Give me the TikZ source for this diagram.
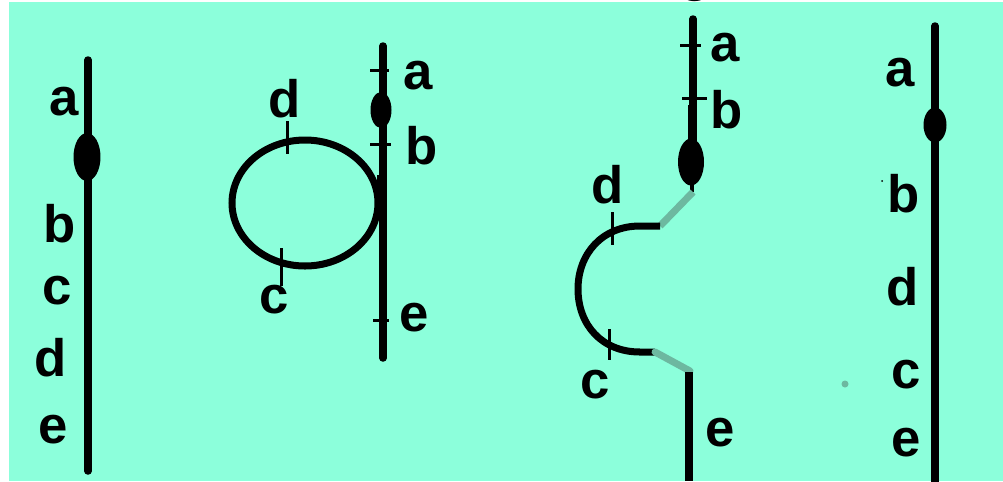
\documentclass[tikz,border=0pt]{standalone}
\usepackage{fontspec}
\setmainfont{Liberation Sans}
\usetikzlibrary{shapes.geometric}
\definecolor{Aqua}{HTML}{8CFFDB}
\definecolor{Faded}{HTML}{6DB8A0}
\tikzset{
  strand/.style={line width=7pt*0.57,draw=black},
  thread/.style={line width=7.5pt*0.57,draw=black,line cap=round},
  faded/.style={line width=7pt*0.57,draw=Faded},
  tick/.style={line width=3pt*0.57,draw=black},
  blob/.style={ellipse,fill=black,inner sep=0pt},
  letter/.style={inner sep=0pt,font=\bfseries\fontsize{30}{30}\selectfont}
}
\begin{document}
\begin{tikzpicture}[x=.02cm,y=-.02cm]
  \useasboundingbox (0,0) rectangle (1003,481);
  \fill[white] (0,0) rectangle (1003,481);
  \fill[Aqua] (9,2) rectangle (1003,481);
  % cut off heading
  \begin{scope}
    \clip (0,0) rectangle (1003,5);
    \node[letter] (head) at (696,-18) {g};
  \end{scope}
  % first strand
  \draw[thread] (88,60) -- (88,471);
  \node[blob,minimum width=.54cm,minimum height=.96cm] (knotA) at (87,157) {};
  \node[letter] (aA) at (64,102) {a};
  \node[letter] (bA) at (60,224) {b};
  \node[letter] (cA) at (57,291) {c};
  \node[letter] (dA) at (51,358) {d};
  \node[letter] (eA) at (53,430) {e};
  % second strand with loop
  \draw[thread] (383,46) -- (383,358);
  \draw[strand] (305,203) ellipse (73 and 63);
  \draw[line width=5pt*0.57] (379,175) -- (379,215);
  \node[blob,minimum width=.42cm,minimum height=.72cm] (knotB) at (381,110) {};
  \draw[tick] (370,70) -- (389,70);
  \draw[tick] (370,144) -- (391,144);
  \draw[tick] (373,320) -- (389,320);
  \draw[tick] (287,121) -- (287,154);
  \draw[tick] (281,248) -- (281,286);
  \node[letter] (aB) at (418,76) {a};
  \node[letter] (bB) at (422,146) {b};
  \node[letter] (cB) at (274,300) {c};
  \node[letter] (dB) at (285,99) {d};
  \node[letter] (eB) at (414,318) {e};
  % third strand with loop cut open
  \draw[thread] (693,19) -- (693,150);
  \draw[line width=9pt*0.57] (692,105) -- (692,150);
  \node[blob,minimum width=.52cm,minimum height=.94cm] (knotC) at (691,162) {};
  \draw[line width=4pt*0.57] (692,170) -- (692,192);
  \draw[faded] (693,192) -- (660,226);
  \draw[strand] (660,226) -- (640,226) .. controls (602,226) and (578,254) .. (578,289)
    .. controls (578,325) and (602,352) .. (640,352) -- (655,352);
  \draw[faded,line cap=round] (655,352) -- (690,371);
  \draw[line width=7.5pt*0.57] (689,372) -- (689,481);
  \draw[tick] (680,45) -- (701,45);
  \draw[tick] (682,98) -- (707,98);
  \draw[tick] (612,212) -- (612,245);
  \draw[tick] (609,329) -- (609,360);
  \node[letter] (aC) at (725,48) {a};
  \node[letter] (bC) at (727,110) {b};
  \node[letter] (cC) at (595,385) {c};
  \node[letter] (dC) at (608,185) {d};
  \node[letter] (eC) at (720,433) {e};
  \fill[Faded] (845,384) circle (3.5);
  % fourth strand
  \draw[thread] (935,26) -- (935,485);
  \node[blob,minimum width=.46cm,minimum height=.7cm] (knotD) at (935,125) {};
  \fill (882,181) circle (1);
  \node[letter] (aD) at (900,73) {a};
  \node[letter] (bD) at (904,194) {b};
  \node[letter] (cD) at (906,375) {c};
  \node[letter] (dD) at (903,287) {d};
  \node[letter] (eD) at (906,443) {e};
\end{tikzpicture}
\end{document}
